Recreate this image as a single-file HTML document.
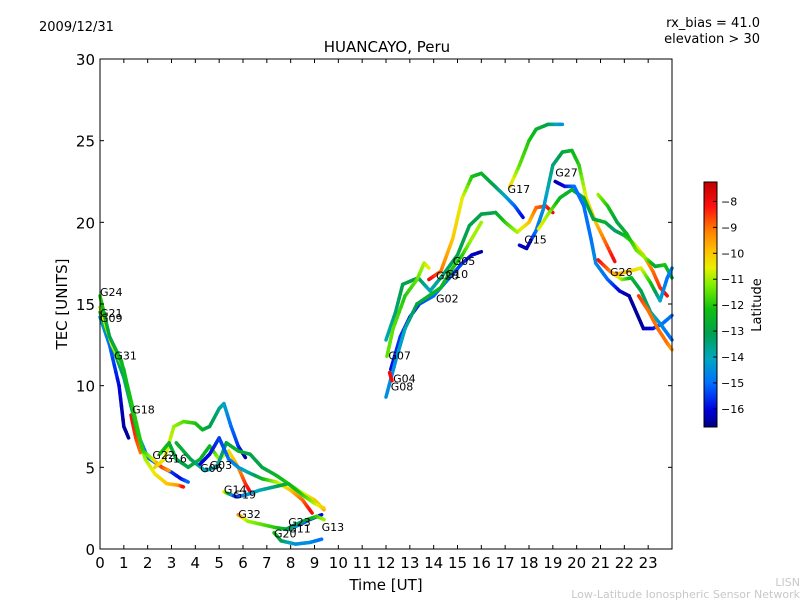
<!DOCTYPE html>
<html><head><meta charset="utf-8">
<style>
body{margin:0;background:#fff;}
svg{display:block;font-family:"DejaVu Sans","Liberation Sans",sans-serif;}
</style></head>
<body>
<svg id="chart" width="800" height="600" viewBox="0 0 800 600">
<defs>
<linearGradient id="cbgrad" x1="0" y1="1" x2="0" y2="0">
<stop offset="0" stop-color="#000080"/>
<stop offset="0.07" stop-color="#0000e0"/>
<stop offset="0.18" stop-color="#0070ff"/>
<stop offset="0.28" stop-color="#00a8c0"/>
<stop offset="0.38" stop-color="#00a050"/>
<stop offset="0.48" stop-color="#10c010"/>
<stop offset="0.58" stop-color="#80f000"/>
<stop offset="0.65" stop-color="#e8f000"/>
<stop offset="0.72" stop-color="#ffc000"/>
<stop offset="0.8" stop-color="#ff8000"/>
<stop offset="0.9" stop-color="#ff1010"/>
<stop offset="1" stop-color="#c00000"/>
</linearGradient>
</defs>
<text x="39" y="31" font-size="13">2009/12/31</text>
<text x="760" y="27" font-size="13" text-anchor="end">rx_bias = 41.0</text>
<text x="760" y="43" font-size="13" text-anchor="end">elevation &gt; 30</text>
<text x="387" y="52" font-size="15" text-anchor="middle">HUANCAYO, Peru</text>
<g id="tracks"></g>
<g id="labels"></g>
<rect x="100" y="59" width="572" height="490" fill="none" stroke="#000" stroke-width="1"/>
<g id="axes"></g>
<text transform="translate(67,304) rotate(-90)" font-size="15" text-anchor="middle">TEC [UNITS]</text>
<text x="386" y="590" font-size="15" text-anchor="middle">Time [UT]</text>
<rect x="704" y="182" width="13" height="245" fill="url(#cbgrad)" stroke="#000" stroke-width="1"/>
<g id="cbticks"></g>
<text transform="translate(761,305) rotate(-90)" font-size="13" text-anchor="middle">Latitude</text>
<text x="800" y="586" font-size="11" fill="#c8c8c8" text-anchor="end">LISN</text>
<text x="800" y="598" font-size="11" fill="#c8c8c8" text-anchor="end">Low-Latitude Ionospheric Sensor Network</text>
</svg>
<script>
const xTicks=[0,1,2,3,4,5,6,7,8,9,10,11,12,13,14,15,16,17,18,19,20,21,22,23];
const yTicks=[0,5,10,15,20,25,30];
const cbTicks=[-8,-9,-10,-11,-12,-13,-14,-15,-16];
const satNames=["G24","G21","G09","G31","G18","G22","G16","G06","G03","G14","G19","G32","G23","G20","G11","G13","G07","G04","G08","G28","G10","G02","G05","G17","G15","G27","G26"];
const labelPos=[[0,15.5],[0,14.2],[0,13.9],[0.6,11.6],[1.35,8.3],[2.2,5.5],[2.7,5.3],[4.2,4.7],[4.6,4.9],[5.2,3.4],[5.6,3.1],[5.8,1.9],[7.9,1.4],[7.3,0.7],[7.9,1.0],[9.3,1.1],[12.1,11.6],[12.3,10.2],[12.2,9.7],[14.1,16.5],[14.5,16.6],[14.1,15.1],[14.8,17.4],[17.1,21.8],[17.8,18.7],[19.1,22.8],[21.4,16.7]];
const track1=[[0,14.2,-14],[0.4,12.5,-15],[0.8,10,-16],[1.0,7.5,-16.5],[1.2,6.8,-16.5]];
const track2=[[1.3,8.2,-8],[1.5,6.8,-8.5],[1.7,5.9,-9]];
const track3=[[0,14.5,-12],[0.5,12.5,-13],[1.0,10.5,-13.5],[1.6,7,-14],[2.0,5.6,-15],[2.6,5,-15],[3.0,4.7,-15.5],[3.4,4.3,-16],[3.7,4.1,-15]];
const track4=[[0,14.8,-11],[0.5,12.5,-10.5],[1.0,11,-12],[1.5,7.5,-12.5],[1.9,5.5,-11],[2.3,4.6,-10.5],[2.8,4,-10],[3.3,3.9,-9.5],[3.5,3.8,-8]];
const track5=[[0,15.5,-12],[0.4,13,-13],[0.9,11.5,-12.5],[1.4,8.5,-12],[1.8,6,-12],[2.2,5.5,-11],[2.6,5,-8.5],[2.9,4.8,-9.5]];
const track6=[[2.3,5,-10],[2.7,5.5,-10.5],[3.1,7.5,-11],[3.5,7.8,-11.5],[4.0,7.7,-12],[4.3,7.3,-12.5],[4.6,7.5,-13],[5.0,8.6,-13.5],[5.2,8.9,-14],[5.5,7.5,-15],[5.8,6.3,-15.5],[6.1,5.6,-16.5]];
const track7=[[2.5,5.8,-12],[2.9,6.5,-12.5],[3.2,5.5,-13],[3.7,5,-13],[4.2,5.5,-12.5],[4.6,6.3,-12.5],[5.0,5.5,-11],[5.4,6,-10.5],[5.8,5,-9.5],[6.1,4,-8.5],[6.3,3.5,-8]];
const track8=[[3.2,6.5,-12.5],[3.8,5.5,-13],[4.4,4.8,-14],[4.9,5,-14],[5.3,6.5,-13],[5.8,6,-12.5],[6.3,5.8,-13],[6.8,5,-13],[7.4,4.5,-12.5],[7.9,4,-12],[8.4,3.5,-11],[9.0,3,-10],[9.4,2.4,-9.5]];
const track9=[[4.2,5.2,-16],[4.6,5.8,-16],[5.0,6.8,-15.5],[5.4,5.5,-15],[5.8,5,-14.5],[6.2,4.7,-14],[6.8,4.3,-12.5],[7.4,4.1,-11],[8.0,3.6,-10],[8.5,3,-9],[8.9,2.2,-8]];
const track10=[[5.2,3.5,-10],[5.7,3.2,-16],[6.1,3.3,-14.5],[6.7,3.6,-14],[7.3,3.8,-13.5],[7.9,4,-12.5],[8.5,3.3,-12],[9.0,2.8,-11],[9.4,2.5,-10]];
const track11=[[5.8,2.1,-9],[6.2,1.7,-11],[6.8,1.5,-11.5],[7.4,1.3,-12],[7.9,1.2,-13],[8.4,1.5,-15],[8.8,1.8,-15.5],[9.3,2.1,-16]];
const track12=[[7.3,1.0,-12],[7.6,0.5,-13],[8.2,0.3,-14.5],[8.8,0.4,-14.5],[9.3,0.6,-15]];
const track13=[[7.8,1.2,-13],[8.2,1.5,-13.5],[8.7,1.8,-13],[9.1,2.0,-12],[9.4,1.8,-11]];
const track14=[[12.0,12.8,-14],[12.4,14.5,-13.5],[12.7,16.2,-13],[13.35,16.6,-13],[13.85,15.8,-14],[14.4,16.8,-13.5],[15.0,18,-13],[15.5,19.8,-13],[16.0,20.5,-13],[16.6,20.6,-13],[17.0,20,-12],[17.5,19.4,-11],[18.0,20,-10],[18.3,20.9,-9],[18.7,21,-8.5],[19.0,20.6,-7.8]];
const track15=[[12.04,11.8,-11.5],[12.3,13.5,-11.5],[12.8,15.5,-12],[13.3,16.5,-11.5],[13.6,17.5,-11],[13.8,17.2,-10.5]];
const track16=[[13.8,16.5,-7.8],[14.3,17,-9],[14.8,19,-10],[15.2,21.5,-10.5],[15.6,22.8,-12],[16.0,23,-12.5],[16.5,22.3,-13],[17.0,21.6,-14],[17.4,21,-15],[17.75,20.3,-16]];
const track17=[[17.2,22.2,-10],[17.6,23.5,-11.5],[18.0,25,-12],[18.3,25.7,-12.5],[18.8,26,-13],[19.4,26,-14.5]];
const track18=[[12.2,11,-16],[12.6,13,-15.5],[13.0,14.2,-16],[13.4,15,-15.5],[14.0,15.5,-15],[14.6,16.5,-15],[15.2,17.5,-15.5],[15.6,18,-16],[16.0,18.2,-16.5]];
const track19=[[12.0,9.3,-14.5],[12.4,11.5,-14.5],[12.8,13.5,-14],[13.3,15,-13],[13.8,15.5,-12.5],[14.3,16,-12.5],[14.7,17,-12],[15.2,18,-12],[15.6,19,-11],[16.0,20,-11]];
const track20=[[17.6,18.6,-16],[17.9,18.4,-16.5],[18.3,19.5,-15],[18.6,20.8,-14.5],[19.0,23.5,-13.5],[19.4,24.3,-13],[19.8,24.4,-12.5],[20.1,23.5,-12],[20.4,21.5,-10.5],[20.8,20,-10],[21.2,18.8,-9],[21.6,17.6,-8]];
const track21=[[18.4,19.6,-10.5],[18.8,20.5,-11],[19.3,21.5,-12.5],[19.8,22,-12.5],[20.3,21.5,-13],[20.7,20.2,-13],[21.2,20,-12.5],[21.6,19.5,-13.5],[22.0,19.2,-12.5],[22.4,18.7,-11],[22.8,18,-10],[23.2,17,-9],[23.5,16,-8.5],[23.8,15.5,-8]];
const track22=[[19.1,22.5,-16.5],[19.5,22.2,-16],[19.9,22.2,-15],[20.3,21,-15],[20.6,19,-15],[20.8,17.5,-14.5],[21.3,16.5,-15],[21.8,15.8,-16],[22.2,15.5,-16.5],[22.5,14.5,-16.5],[22.8,13.5,-16.5],[23.2,13.5,-16],[23.6,13.8,-15],[24.0,14.3,-15]];
const track23=[[20.9,21.7,-11],[21.3,21,-12],[21.7,20,-13],[22.1,19.3,-12.5],[22.5,18.3,-11.5],[22.9,17.8,-11],[23.3,17.3,-13],[23.7,17.4,-12],[24.0,16.6,-13]];
const track24=[[20.9,17.7,-8],[21.4,17,-9],[21.9,16.5,-11],[22.3,16.6,-12.5],[22.7,15.8,-13],[23.1,14.5,-13.5],[23.5,13.8,-14.5],[24.0,12.8,-15]];
const track25=[[21.6,16.8,-9.5],[22.2,17,-10],[22.7,17.2,-10.5],[23.1,16.3,-12],[23.5,15.2,-14],[23.8,16.6,-15],[24.0,17.2,-14.5]];
const track26=[[22.6,15.5,-8.5],[23.0,14.6,-9],[23.4,13.5,-9],[23.8,12.6,-9],[24.0,12.2,-9.5]];
const track27=[[12.15,10.8,-8],[12.25,10.3,-8]];
const allTracks=[track1,track2,track3,track4,track5,track6,track7,track8,track9,track10,track11,track12,track13,track14,track15,track16,track17,track18,track19,track20,track21,track22,track23,track24,track25,track26,track27];

const X0=100,X1=672,Y0=549,Y1=59;
const xs=t=>X0+t*(X1-X0)/24;
const ys=v=>Y0-v*(Y0-Y1)/30;
const cbTop=182,cbBot=427,latMax=-7.25,latMin=-16.7;
const cbY=l=>cbTop+(latMax-l)*(cbBot-cbTop)/(latMax-latMin);
const stops=[[0,[0,0,128]],[0.07,[0,0,224]],[0.18,[0,112,255]],[0.28,[0,168,192]],[0.38,[0,160,80]],[0.48,[16,192,16]],[0.58,[128,240,0]],[0.65,[232,240,0]],[0.72,[255,192,0]],[0.8,[255,128,0]],[0.9,[255,16,16]],[1,[192,0,0]]];
function col(l){let f=(l-latMin)/(latMax-latMin);f=Math.max(0,Math.min(1,f));
 for(let i=1;i<stops.length;i++){if(f<=stops[i][0]){const a=stops[i-1],b=stops[i];const u=(f-a[0])/(b[0]-a[0]);
 const c=a[1].map((v,k)=>Math.round(v+(b[1][k]-v)*u));return `rgb(${c[0]},${c[1]},${c[2]})`;}}return 'rgb(192,0,0)';}
const NS="http://www.w3.org/2000/svg";
const g=document.getElementById('tracks');
allTracks.forEach((tr,ti)=>{
 const grp=document.createElementNS(NS,'g');
 
 
 for(let i=0;i<tr.length-1;i++){
  const a=tr[i],b=tr[i+1];const N=6;
  for(let k=0;k<N;k++){const u0=k/N,u1=(k+1)/N;
   const ln=document.createElementNS(NS,'line');
   ln.setAttribute('x1',xs(a[0]+(b[0]-a[0])*u0));ln.setAttribute('y1',ys(a[1]+(b[1]-a[1])*u0));
   ln.setAttribute('x2',xs(a[0]+(b[0]-a[0])*u1));ln.setAttribute('y2',ys(a[1]+(b[1]-a[1])*u1));
   ln.setAttribute('stroke',col(a[2]+(b[2]-a[2])*(u0+u1)/2));ln.setAttribute('stroke-width','3.5');ln.setAttribute('stroke-linecap','round');
   
   
   grp.appendChild(ln);}
 }
 g.appendChild(grp);
});
const lg=document.getElementById('labels');
satNames.forEach((n,i)=>{const t=document.createElementNS(NS,'text');
 t.setAttribute('x',xs(labelPos[i][0]));t.setAttribute('y',ys(labelPos[i][1]));t.setAttribute('font-size','11');t.textContent=n;
 
 
 lg.appendChild(t);});
const ax=document.getElementById('axes');
function add(tag,attrs,txt){const e=document.createElementNS(NS,tag);for(const k in attrs)e.setAttribute(k,attrs[k]);if(txt!==undefined)e.textContent=txt;ax.appendChild(e);return e;}
xTicks.forEach(v=>{const x=xs(v);
 const a=add('line',{x1:x,y1:Y0,x2:x,y2:Y0-4,stroke:'#000'});
 const b=add('line',{x1:x,y1:Y1,x2:x,y2:Y1+4,stroke:'#000'});
 const t=add('text',{x:x,y:568,'font-size':15,'text-anchor':'middle'},String(v));});
yTicks.forEach(v=>{const y=ys(v);
 const a=add('line',{x1:X0,y1:y,x2:X0+4,y2:y,stroke:'#000'});
 const b=add('line',{x1:X1,y1:y,x2:X1-4,y2:y,stroke:'#000'});
 const t=add('text',{x:95,y:y+6,'font-size':15,'text-anchor':'end'},String(v));});
const cb=document.getElementById('cbticks');
cbTicks.forEach(v=>{const y=cbY(v);
 const l=document.createElementNS(NS,'line');l.setAttribute('x1',713);l.setAttribute('x2',717);l.setAttribute('y1',y);l.setAttribute('y2',y);l.setAttribute('stroke','#000');
 
 
 cb.appendChild(l);
 const t=document.createElementNS(NS,'text');t.setAttribute('x',721);t.setAttribute('y',y+4);t.setAttribute('font-size',11);t.textContent='\u2212'+Math.abs(v);
 
 
 cb.appendChild(t);});
</script>
</body></html>
